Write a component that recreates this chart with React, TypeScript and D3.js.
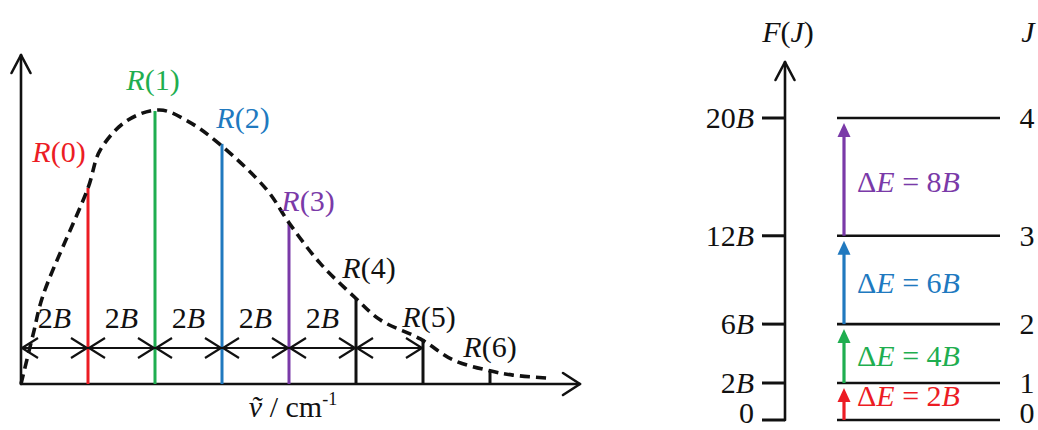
import React from "react";
import * as d3 from "d3";

// R-branch lines of the rotational spectrum (J = lower level)
const branchJ = [0, 1, 2, 3, 4, 5, 6];
const branchLabels = ["R(0)", "R(1)", "R(2)", "R(3)", "R(4)", "R(5)", "R(6)"];
// line position in units of 2B (R(J) sits at 2B(J+1))
const branchPos = [1, 2, 3, 4, 5, 6, 7];
const branchIntensity = [59.6, 83, 73, 49, 26, 13.7, 4];
const branchColors = ["#ec1c24", "#1fae50", "#2079bf", "#7a3aa8", "#111", "#111", "#111"];

// envelope of intensities (dashed curve)
const envelopePos = [0, 0.18, 0.33, 1, 1.18, 1.58, 2.07, 2.48, 2.96, 3.67, 4, 4.46, 5, 5.36, 5.96, 6.45, 7, 7.34, 7.87];
const envelopeVal = [0, 15, 27, 59.6, 71, 80, 83.3, 80, 73, 59, 49, 36.8, 26, 19.5, 13.7, 7.3, 4, 2.7, 1.8];

// spacing arrows between neighbouring lines
const spacingStart = [0, 1, 2, 3, 4, 5];
const spacingLabelCount = 5;

// energy-level diagram
const levelJ = [0, 1, 2, 3, 4];
const levelEnergy = [0, 2, 6, 12, 20];
const levelTickLabels = ["0", "2B", "6B", "12B", "20B"];
const transitionDelta = ["2B", "4B", "6B", "8B"];
const transitionColors = ["#ec1c24", "#1fae50", "#2079bf", "#7a3aa8"];

const FONT = "'Liberation Serif', 'Times New Roman', serif";
const FS = 30;

type Seg = { t: string; i?: boolean };

// Parses labels such as "R(0)", "12B", "F(J)" into upright / italic pieces
function mathSegs(s: string): Seg[] {
  const segs: Seg[] = [];
  for (const ch of s) {
    const it = /[A-Za-z]/.test(ch);
    const last = segs[segs.length - 1];
    if (last && !!last.i === it) last.t += ch;
    else segs.push({ t: ch, i: it });
  }
  return segs;
}

function MText({ x, y, s, anchor = "middle", fill = "#111", size = FS }: { x: number; y: number; s: string; anchor?: string; fill?: string; size?: number }) {
  return (
    <text x={x} y={y} textAnchor={anchor} fill={fill} fontFamily={FONT} fontSize={size}>
      {mathSegs(s).map((g, k) => (
        <tspan key={k} fontStyle={g.i ? "italic" : "normal"}>
          {g.t}
        </tspan>
      ))}
    </text>
  );
}

export default function App() {
  // ---- left panel scales
  const x = d3.scaleLinear().domain([0, 7]).range([21, 490]);
  const y = d3.scaleLinear().domain([0, 100]).range([384, 55]);
  const xAxisEnd = 580;
  const arrowY = 348;

  const envelope = d3
    .line<number>()
    .x((_, k) => x(envelopePos[k]))
    .y((d) => y(d))
    .curve(d3.curveCatmullRom.alpha(0.5))(envelopeVal) as string;

  // label nudges relative to line top
  const labelNudge: [number, number][] = [
    [-29, -26],
    [-2, -21],
    [21, -16],
    [19, -12],
    [13, -20],
    [6, -12],
    [0, -14],
  ];

  const chevR = (tx: number, ty: number, l: number, h: number) => `M${tx - l},${ty - h}L${tx},${ty}L${tx - l},${ty + h}`;
  const chevL = (tx: number, ty: number, l: number, h: number) => `M${tx + l},${ty - h}L${tx},${ty}L${tx + l},${ty + h}`;

  // ---- right panel scales (schematic: bottom gap slightly stretched)
  const e = d3.scaleLinear().domain([0, 2, 20]).range([420, 383, 118]);
  const axisX = 785;
  const levelX0 = 837;
  const levelX1 = 1000;
  const trX = 844;
  const deltaNudge = [4, 12, 13, 15];

  return (
    <svg width={1038} height={430} style={{ position: "absolute", left: 0, top: 0, background: "#fff" }}>
      {/* ===== spectrum ===== */}
      <g stroke="#111" strokeWidth={2.6} fill="none" strokeLinecap="round" strokeLinejoin="round">
        <line x1={x(0)} y1={y(0)} x2={x(0)} y2={y(100)} />
        <path d={`M${x(0) - 9.5},${y(100) + 18}L${x(0)},${y(100)}L${x(0) + 9.5},${y(100) + 18}`} />
        <line x1={x(0)} y1={y(0)} x2={xAxisEnd} y2={y(0)} />
        <path d={chevR(xAxisEnd, y(0), 17, 11)} />
      </g>

      {branchJ.map((j, k) => (
        <line
          key={j}
          x1={x(branchPos[k])}
          x2={x(branchPos[k])}
          y1={y(0)}
          y2={y(branchIntensity[k])}
          stroke={branchColors[k]}
          strokeWidth={3}
        />
      ))}

      <path d={envelope} fill="none" stroke="#111" strokeWidth={3.6} strokeDasharray="10,6" />

      {branchJ.map((j, k) => (
        <MText
          key={j}
          x={x(branchPos[k]) + labelNudge[k][0]}
          y={y(branchIntensity[k]) + labelNudge[k][1]}
          s={branchLabels[k]}
          fill={k < 4 ? branchColors[k] : "#111"}
        />
      ))}

      {/* 2B spacing arrows */}
      <g stroke="#111" strokeWidth={2.2} fill="none">
        {spacingStart.map((s) => (
          <g key={s}>
            <line x1={x(s)} x2={x(s + 1)} y1={arrowY} y2={arrowY} />
            <path d={chevL(x(s) + 1, arrowY, 16, 10)} />
            <path d={chevR(x(s + 1) - 1, arrowY, 16, 10)} />
          </g>
        ))}
      </g>
      {spacingStart.slice(0, spacingLabelCount).map((s) => (
        <MText key={s} x={(x(s) + x(s + 1)) / 2} y={arrowY - 20} s="2B" />
      ))}

      {/* axis title */}
      <text x={293} y={417} textAnchor="middle" fontFamily={FONT} fontSize={FS} fill="#111">
        <tspan fontStyle="italic">ṽ</tspan>
        <tspan> / cm</tspan>
        <tspan fontSize={18} dy={-12}>-1</tspan>
      </text>

      {/* ===== energy levels ===== */}
      <g stroke="#111" strokeWidth={2.6} fill="none" strokeLinecap="round" strokeLinejoin="round">
        <line x1={axisX} x2={axisX} y1={e(0)} y2={62} />
        <path d={`M${axisX - 9.5},${62 + 18}L${axisX},${62}L${axisX + 9.5},${62 + 18}`} />
      </g>
      <MText x={788} y={42} s="F(J)" />
      <MText x={1028} y={42} s="J" />

      {levelJ.map((j, k) => {
        const ly = e(levelEnergy[k]);
        const ty = Math.min(ly + 10, 423);
        return (
          <g key={j}>
            <line x1={762} x2={axisX} y1={ly} y2={ly} stroke="#111" strokeWidth={3} />
            <MText x={754} y={ty} s={levelTickLabels[k]} anchor="end" />
            <line x1={levelX0} x2={levelX1} y1={ly} y2={ly} stroke="#111" strokeWidth={2.6} />
            <MText x={1027} y={ty} s={String(j)} />
          </g>
        );
      })}

      {transitionDelta.map((d, k) => {
        const y0 = e(levelEnergy[k]);
        const y1 = e(levelEnergy[k + 1]);
        const tip = y1 + 5;
        const headH = 14;
        return (
          <g key={d}>
            <line x1={trX} x2={trX} y1={y0} y2={tip + headH - 1} stroke={transitionColors[k]} strokeWidth={3.2} />
            <path d={`M${trX},${tip}L${trX - 6.5},${tip + headH}L${trX + 6.5},${tip + headH}Z`} fill={transitionColors[k]} />
            <MText x={857} y={(y0 + y1) / 2 + deltaNudge[k]} s={`ΔE = ${d}`} anchor="start" fill={transitionColors[k]} />
          </g>
        );
      })}
    </svg>
  );
}
